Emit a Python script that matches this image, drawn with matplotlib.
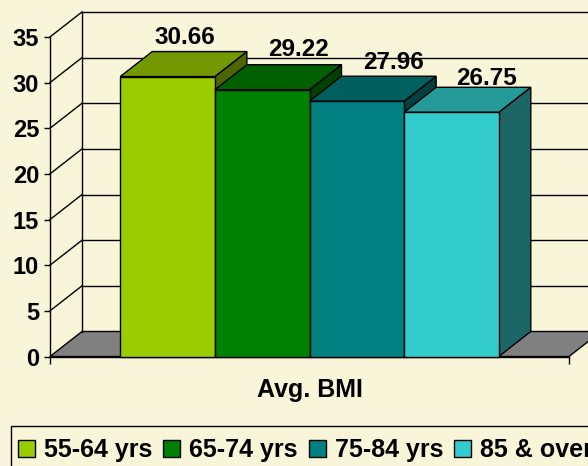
import matplotlib
matplotlib.use("Agg")
import matplotlib.pyplot as plt
from matplotlib.patches import Rectangle, Polygon, Patch

# Data
groups = ["55-64 yrs", "65-74 yrs", "75-84 yrs", "85 & over"]
avg_bmi = [30.66, 29.22, 27.96, 26.75]
category = "Avg. BMI"
y_ticks = [0, 5, 10, 15, 20, 25, 30, 35]

# Styling
bg = "#F9F5D8"
front_colors = ["#9ACC00", "#008000", "#008080", "#33CCCC"]
top_colors = ["#729900", "#006000", "#006060", "#269999"]
side_colors = ["#4D6600", "#004000", "#004040", "#1D6666"]
floor_color = "#808080"
label_nudge_pt = [(0.7, 5.3), (14.9, 6.5), (15.1, 5.0), (13.7, 1.9)]

plt.rcParams["font.family"] = ["Liberation Sans", "DejaVu Sans"]
plt.rcParams["font.weight"] = "bold"

W, H = 588, 466
fig = plt.figure(figsize=(W / 100, H / 100), dpi=100, facecolor=bg)

# Front plane of the 3-D box (pixels measured from the top-left corner)
px_left, px_right, px_y0, px_ytop = 50, 569, 356.5, 36.95
ax = fig.add_axes([px_left / W, (H - px_y0) / H,
                   (px_right - px_left) / W, (px_y0 - px_ytop) / H])
ax.patch.set_visible(False)

n = len(avg_bmi)
pad = 0.742
x0, x1 = -0.5 - pad, n - 0.5 + pad
ymax = y_ticks[-1]
ax.set_xlim(x0, x1)
ax.set_ylim(0, ymax)

# Oblique depth expressed in data units
px_per_x = (px_right - px_left) / (x1 - x0)
px_per_y = (px_y0 - px_ytop) / ymax
DX = 32 / px_per_x
DY = 25 / px_per_y

lw = 1.0
# Floor
ax.add_patch(Polygon([(x0, 0), (x1, 0), (x1 + DX, DY), (x0 + DX, DY)],
                     closed=True, facecolor=floor_color, edgecolor="black",
                     lw=lw, clip_on=False, zorder=1))
# Side wall and back wall gridlines
ax.plot([x0 + DX, x0 + DX], [DY, ymax + DY], color="black", lw=lw,
        clip_on=False, zorder=1.5)
for v in y_ticks[1:]:
    ax.plot([x0, x0 + DX], [v, v + DY], color="black", lw=lw,
            clip_on=False, zorder=1.5)
    ax.plot([x0 + DX, x1 + DX], [v + DY, v + DY], color="black", lw=lw,
            clip_on=False, zorder=1.5)

# 3-D columns, drawn left to right so each covers its neighbour's side
for i, v in enumerate(avg_bmi):
    z = 3 + i
    l, r = i - 0.5, i + 0.5
    ax.add_patch(Polygon([(r, 0), (r + DX, DY), (r + DX, v + DY), (r, v)],
                         closed=True, facecolor=side_colors[i],
                         edgecolor="black", lw=lw, clip_on=False, zorder=z))
    ax.add_patch(Polygon([(l, v), (r, v), (r + DX, v + DY), (l + DX, v + DY)],
                         closed=True, facecolor=top_colors[i],
                         edgecolor="black", lw=lw, clip_on=False, zorder=z))
    ax.add_patch(Rectangle((l, 0), 1, v, facecolor=front_colors[i],
                           edgecolor="black", lw=lw, clip_on=False, zorder=z))
    nx, ny = label_nudge_pt[i]
    ax.annotate(f"{v:.2f}", xy=(i + DX / 2, v + DY), xytext=(nx, ny),
                textcoords="offset points", ha="center", va="baseline",
                fontsize=17.5, fontweight="bold", color="black",
                annotation_clip=False, zorder=20)

# Axes
for s in ["top", "right"]:
    ax.spines[s].set_visible(False)
for s in ["left", "bottom"]:
    ax.spines[s].set_linewidth(lw)
    ax.spines[s].set_zorder(2)
ax.set_yticks(y_ticks)
ax.set_yticklabels([str(t) for t in y_ticks], fontsize=17, fontweight="bold")
ax.tick_params(axis="y", direction="out", length=4.3, width=lw, pad=3.6)
ax.set_xticks([x0, x1])
ax.set_xticklabels(["", ""])
ax.tick_params(axis="x", direction="out", length=5, width=lw)
ax.set_xlabel(category, fontsize=18, fontweight="bold")
ax.xaxis.set_label_coords(0.5, -0.066)
ax.xaxis.label.set_va("top")

# Legend box runs past the right and bottom edges of the figure
fig.patches.append(Rectangle((11 / W, -0.05), 1.2, 1 - 425.7 / H + 0.05,
                             transform=fig.transFigure, facecolor=bg,
                             edgecolor="black", lw=lw, zorder=0.5))
handles = [Patch(facecolor=c, edgecolor="black", lw=lw) for c in front_colors]
leg = fig.legend(handles, groups, loc="upper left",
                 bbox_to_anchor=(18 / W, 1 - 438 / H),
                 bbox_transform=fig.transFigure, ncol=4,
                 prop={"size": 18, "weight": "bold"},
                 handlelength=0.68, handleheight=0.68, handletextpad=0.36,
                 columnspacing=0.44, borderaxespad=0, borderpad=0,
                 frameon=False)

fig.savefig("out.png", dpi=100, facecolor=bg)
